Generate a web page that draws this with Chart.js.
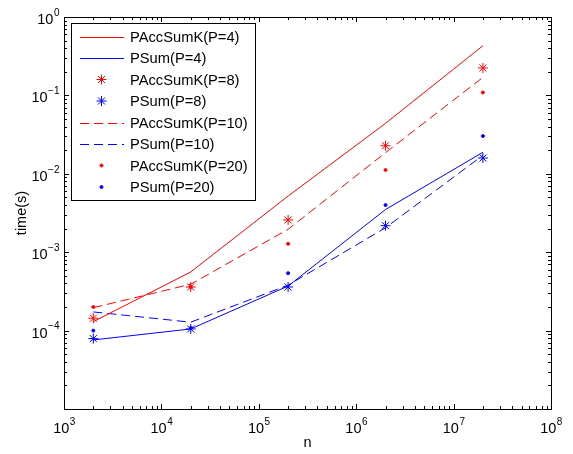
<!DOCTYPE html>
<html>
<head>
<meta charset="utf-8">
<script src="https://cdn.jsdelivr.net/npm/chart.js@4/dist/chart.umd.min.js"></script>
<style>
html, body { margin: 0; padding: 0; background: #fff; }
</style>
</head>
<body>
<canvas id="tiempos" width="573" height="454"></canvas>
<script>
// problem sizes (x) and measured times in seconds (y)
const nValues = [2e3, 2e4, 2e5, 2e6, 2e7];
const accP4  = [1.30e-4, 5.6e-4, 5.2e-3, 0.044, 0.43];
const sumP4  = [7.6e-5, 1.05e-4, 3.7e-4, 3.5e-3, 0.0188];
const accP8  = [1.44e-4, 3.6e-4, 2.58e-3, 0.0228, 0.224];
const sumP8  = [7.9e-5, 1.05e-4, 3.6e-4, 2.18e-3, 0.0159];
const accP10 = [1.96e-4, 3.9e-4, 1.96e-3, 0.0186, 0.17];
const sumP10 = [1.73e-4, 1.28e-4, 3.8e-4, 2.05e-3, 0.0172];
const accP20 = [2.0e-4, 3.6e-4, 1.28e-3, 0.0112, 0.109];
const sumP20 = [1.0e-4, 1.08e-4, 5.4e-4, 4.0e-3, 0.0303];

// decade exponents shown as tick labels
const xTickExps = [3, 4, 5, 6, 7, 8];
const yTickExps = [-4, -3, -2, -1, 0];

const rojo = 'rgb(255,0,0)';
const azul = 'rgb(0,0,255)';
const fuente = '"Liberation Sans", Arial, Helvetica, sans-serif';

function puntos(ys) {
  return nValues.map((n, i) => ({ x: n, y: ys[i] }));
}

function linea(label, ys, color, dash) {
  return { label: label, data: puntos(ys), borderColor: color, backgroundColor: color,
    borderWidth: 1, borderDash: dash, pointRadius: 0, tension: 0, fill: false };
}

function marcas(label, ys, color, estilo, radio) {
  return { label: label, data: puntos(ys), borderColor: color, backgroundColor: color,
    showLine: false, pointStyle: estilo, pointRadius: radio, pointBorderWidth: 1, pointHoverRadius: radio };
}

// axes box, inward ticks and 10^k labels, drawn like the original
const ejes = {
  id: 'ejes',
  afterDatasetsDraw(chart) {
    const ctx = chart.ctx;
    const a = chart.chartArea;
    const sx = chart.scales.x, sy = chart.scales.y;
    ctx.save();
    ctx.strokeStyle = '#000';
    ctx.lineWidth = 1;
    ctx.beginPath();
    // x ticks
    for (let k = 3; k <= 8; k++) {
      for (let m = 1; m <= 9; m++) {
        const v = m * Math.pow(10, k);
        if (v > sx.max * 1.0001) break;
        const px = Math.round(sx.getPixelForValue(v)) + 0.5;
        const len = m === 1 ? 5 : 3;
        ctx.moveTo(px, a.bottom); ctx.lineTo(px, a.bottom - len);
        ctx.moveTo(px, a.top); ctx.lineTo(px, a.top + len);
      }
    }
    // y ticks
    for (let k = -5; k <= 0; k++) {
      for (let m = 1; m <= 9; m++) {
        const v = m * Math.pow(10, k);
        if (v > sy.max * 1.0001) break;
        const py = Math.round(sy.getPixelForValue(v)) + 0.5;
        const len = m === 1 ? 5 : 3;
        ctx.moveTo(a.left, py); ctx.lineTo(a.left + len, py);
        ctx.moveTo(a.right, py); ctx.lineTo(a.right - len, py);
      }
    }
    ctx.stroke();
    ctx.strokeRect(Math.round(a.left) + 0.5, Math.round(a.top) + 0.5,
      Math.round(a.right - a.left), Math.round(a.bottom - a.top));

    ctx.fillStyle = '#000';
    ctx.textBaseline = 'middle';
    const fBase = '14.5px ' + fuente, fExp = '10px ' + fuente;
    function etiqueta(exp, cx, cy, alinear) {
      const e = String(exp).replace('-', '\u2212');
      ctx.font = fBase; const w1 = ctx.measureText('10').width;
      ctx.font = fExp; const w2 = ctx.measureText(e).width;
      const x0 = alinear === 'right' ? cx - w1 - w2 : cx - (w1 + w2) / 2;
      ctx.textAlign = 'left';
      ctx.font = fBase; ctx.fillText('10', x0, cy + 3);
      ctx.font = fExp; ctx.fillText(e, x0 + w1 + 0.5, cy - 4);
    }
    xTickExps.forEach(k => etiqueta(k, sx.getPixelForValue(Math.pow(10, k)), a.bottom + 17, 'center'));
    yTickExps.forEach(k => etiqueta(k, a.left - 5, sy.getPixelForValue(Math.pow(10, k)), 'right'));

    ctx.font = '14.5px ' + fuente;
    ctx.textAlign = 'center';
    ctx.fillText('n', (a.left + a.right) / 2, a.bottom + 34);
    ctx.translate(22, (a.top + a.bottom) / 2);
    ctx.rotate(-Math.PI / 2);
    ctx.fillText('time(s)', 0, 0);
    ctx.restore();
  }
};

// boxed legend at the top left
const leyenda = {
  id: 'leyenda',
  afterDraw(chart) {
    const ctx = chart.ctx;
    ctx.save();
    ctx.fillStyle = '#fff';
    ctx.fillRect(71, 23, 184, 177);
    ctx.strokeStyle = '#000';
    ctx.lineWidth = 1;
    ctx.strokeRect(71.5, 23.5, 184, 177);
    chart.data.datasets.forEach((ds, i) => {
      const y = 36.5 + i * 21.5;
      if (ds.showLine === false) {
        ctx.strokeStyle = ds.borderColor;
        ctx.fillStyle = ds.backgroundColor;
        ctx.lineWidth = 1;
        ctx.setLineDash([]);
        Chart.helpers.drawPoint(ctx, { pointStyle: ds.pointStyle, radius: ds.pointRadius, borderWidth: 1, rotation: 0 }, 101.5, y);
      } else {
        ctx.strokeStyle = ds.borderColor;
        ctx.lineWidth = 1;
        ctx.setLineDash(ds.borderDash || []);
        ctx.beginPath();
        ctx.moveTo(80, Math.round(y) + 0.5);
        ctx.lineTo(124, Math.round(y) + 0.5);
        ctx.stroke();
        ctx.setLineDash([]);
      }
      ctx.fillStyle = '#000';
      ctx.font = '14.7px ' + fuente;
      ctx.textAlign = 'left';
      ctx.textBaseline = 'middle';
      ctx.fillText(ds.label, 130, y + 1);
    });
    ctx.restore();
  }
};

const grafica = new Chart(document.getElementById('tiempos').getContext('2d'), {
  type: 'line',
  data: {
    datasets: [
      linea('PAccSumK(P=4)', accP4, rojo, []),
      linea('PSum(P=4)', sumP4, azul, []),
      marcas('PAccSumK(P=8)', accP8, rojo, 'star', 5),
      marcas('PSum(P=8)', sumP8, azul, 'star', 5),
      linea('PAccSumK(P=10)', accP10, rojo, [9, 5]),
      linea('PSum(P=10)', sumP10, azul, [9, 5]),
      marcas('PAccSumK(P=20)', accP20, rojo, 'circle', 1.5),
      marcas('PSum(P=20)', sumP20, azul, 'circle', 1.5)
    ]
  },
  options: {
    responsive: false,
    animation: false,
    devicePixelRatio: 1,
    layout: { padding: { left: 64, right: 22, top: 17, bottom: 45 } },
    scales: {
      x: { type: 'logarithmic', min: 1e3, max: 1e8, display: false },
      y: { type: 'logarithmic', min: 1e-5, max: 1, display: false }
    },
    plugins: {
      legend: { display: false },
      tooltip: { enabled: false }
    }
  },
  plugins: [ejes, leyenda]
});
</script>
</body>
</html>
